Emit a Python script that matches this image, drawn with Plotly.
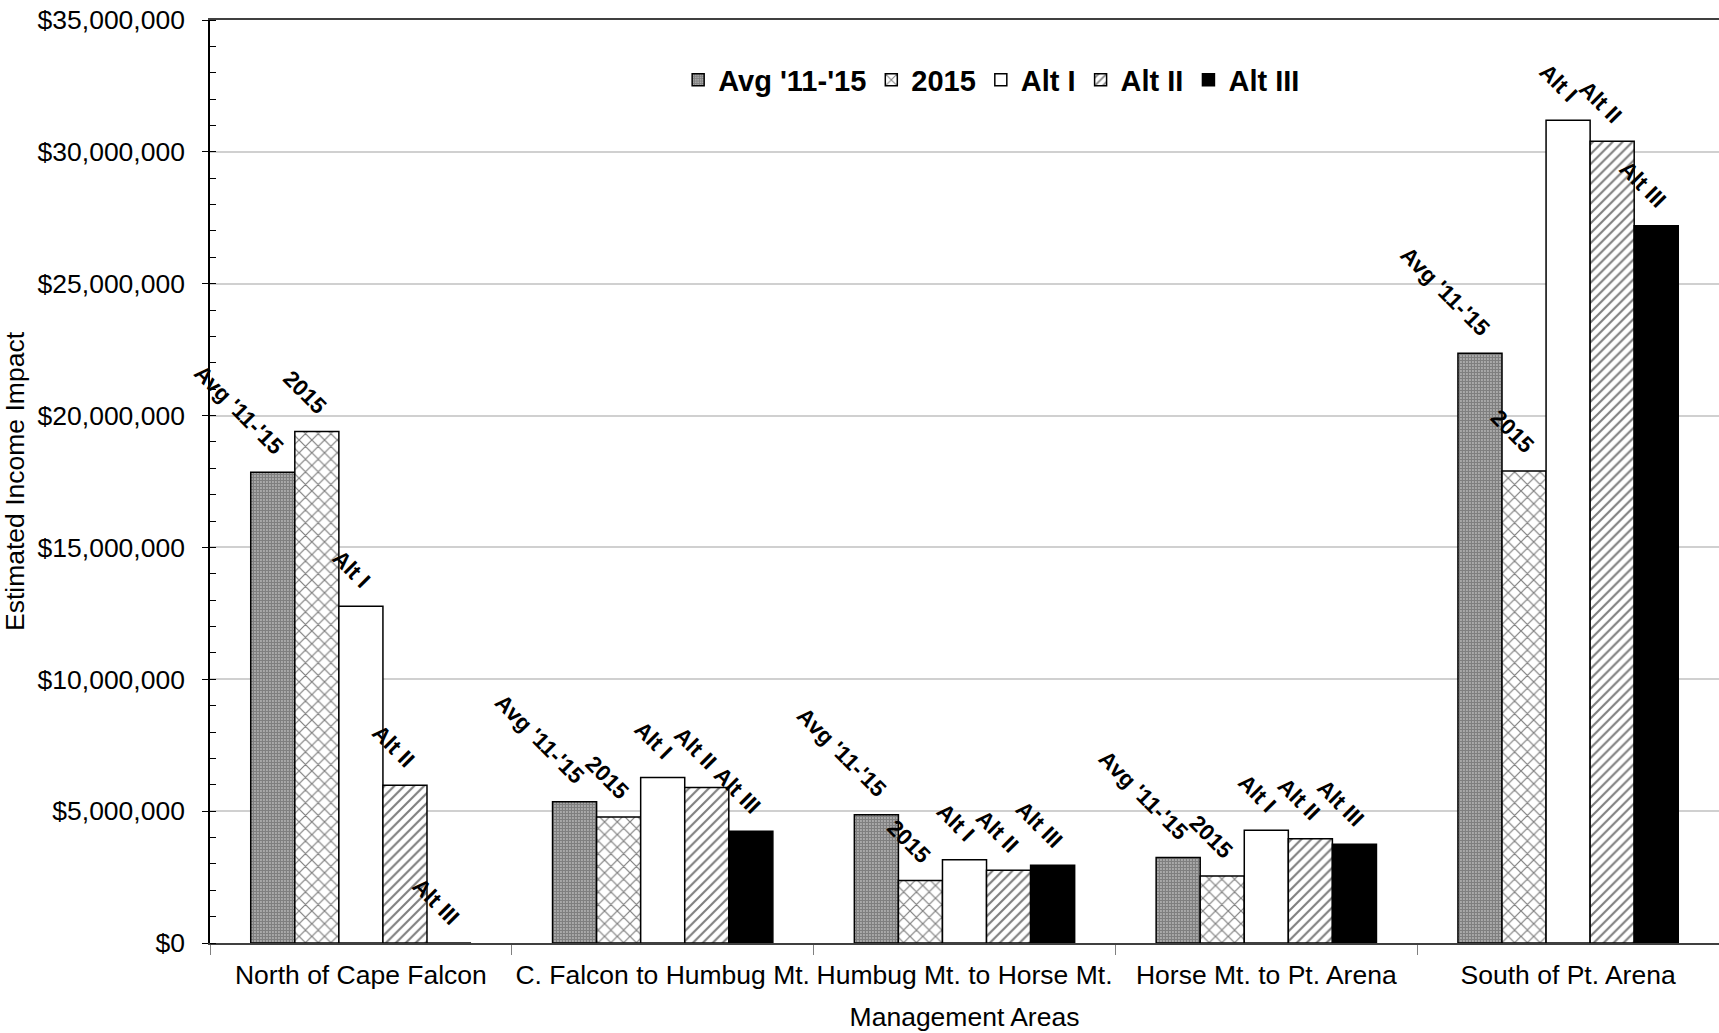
import plotly.graph_objects as go

categories = ["North of Cape Falcon", "C. Falcon to Humbug Mt.", "Humbug Mt. to Horse Mt.",
              "Horse Mt. to Pt. Arena", "South of Pt. Arena"]
series_names = ["Avg '11-'15", "2015", "Alt I", "Alt II", "Alt III"]
avg_11_15 = [17850000, 5360000, 4860000, 3240000, 22360000]
y2015 = [19400000, 4780000, 2370000, 2540000, 17900000]
alt_1 = [12770000, 6280000, 3160000, 4280000, 31200000]
alt_2 = [5980000, 5900000, 2760000, 3950000, 30400000]
alt_3 = [0, 4240000, 2950000, 3740000, 27200000]
y_ticks = [0, 5000000, 10000000, 15000000, 20000000, 25000000, 30000000, 35000000]

series_values = [avg_11_15, y2015, alt_1, alt_2, alt_3]

styles = [
    dict(color="white", pattern=dict(shape=".", size=3, solidity=0.8, fgcolor="black", bgcolor="white")),
    dict(color="white", pattern=dict(shape="x", size=9, solidity=0.25, fgcolor="black", bgcolor="white")),
    dict(color="white"),
    dict(color="white", pattern=dict(shape="/", size=7, solidity=0.3, fgcolor="black", bgcolor="white")),
    dict(color="black"),
]

BARGAP = 0.27
n = len(series_names)
w = (1 - BARGAP) / n

fig = go.Figure()
annotations = []
for j, (name, vals, st) in enumerate(zip(series_names, series_values, styles)):
    marker = dict(line=dict(color="black", width=1.5), **st)
    fig.add_trace(go.Bar(name=name, x=categories, y=vals, marker=marker))
    for i, v in enumerate(vals):
        annotations.append(dict(
            x=i + (j - (n - 1) / 2) * w + w * 0.4, y=v, xref="x", yref="y",
            text=name, textangle=45, showarrow=False,
            xanchor="right", yanchor="bottom", yshift=10,
            font=dict(family="Arial, Liberation Sans", size=22.5, color="black", weight="bold"),
        ))

fig.update_layout(
    width=1719, height=1033,
    barmode="group", bargap=BARGAP, bargroupgap=0,
    plot_bgcolor="white", paper_bgcolor="white",
    margin=dict(l=210, r=0, t=20, b=90),
    font=dict(family="Arial, Liberation Sans", size=26.5, color="black"),
    legend=dict(orientation="h", x=0.518, y=0.935, xanchor="center", yanchor="middle",
                font=dict(size=29, weight="bold"), bgcolor="rgba(0,0,0,0)",
                itemwidth=30, tracegroupgap=0),
    annotations=annotations,
    xaxis=dict(
        title=dict(text="Management Areas", font=dict(size=26.5), standoff=19),
        showline=True, linecolor="#404040", linewidth=1.5, mirror=True,
        ticks="outside", tickson="boundaries", ticklen=10, tickcolor="#808080",
        range=[-0.5, 4.5], showgrid=False, tickangle=0, automargin=False,
        tickfont=dict(size=26.5), ticklabelstandoff=7,
    ),
    yaxis=dict(
        title=dict(text="Estimated Income Impact", font=dict(size=26.5), standoff=5),
        range=[0, 35000000], tickvals=y_ticks, tickformat="$,.0f",
        showline=True, linecolor="black", linewidth=1.5, automargin=False,
        ticks="outside", ticklen=6, tickcolor="black",
        showgrid=True, gridcolor="#d0d0d0", gridwidth=1.5,
        minor=dict(dtick=1000000, ticks="inside", ticklen=6, tickcolor="black", showgrid=False),
        tickfont=dict(size=26.5), ticklabelstandoff=12,
    ),
)

fig.write_html("out.html", config={"displayModeBar": False},
               post_script="document.body.style.margin='0';")
